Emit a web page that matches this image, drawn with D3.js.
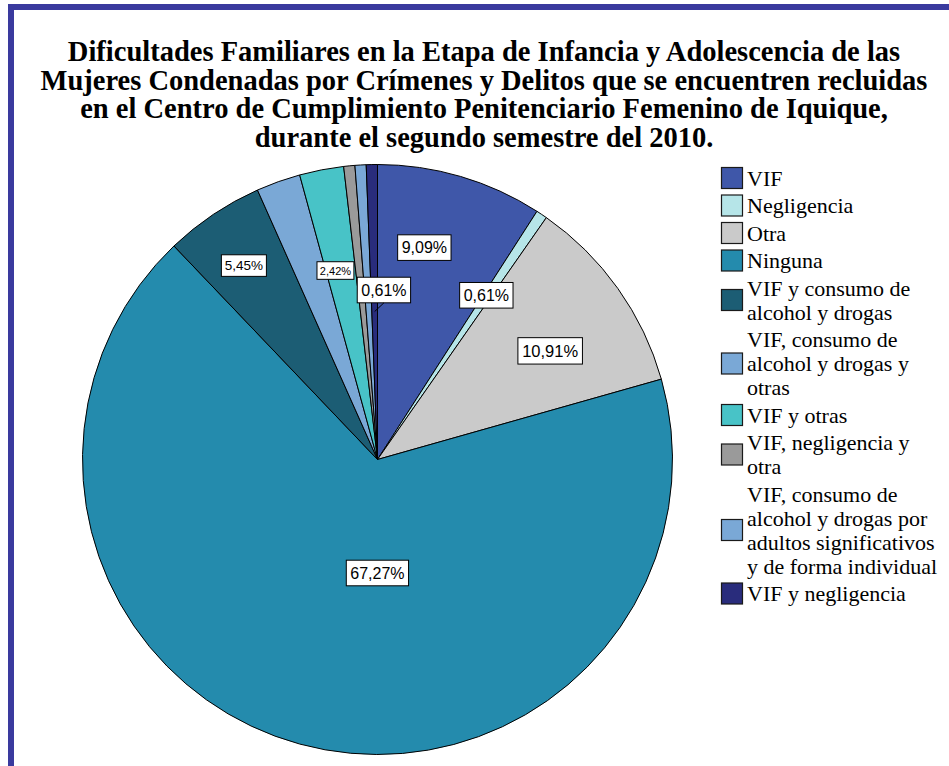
<!DOCTYPE html>
<html>
<head>
<meta charset="utf-8">
<script src="https://cdn.jsdelivr.net/npm/d3@7"></script>
<style>
  html, body { margin: 0; padding: 0; background: #ffffff; }
  svg { display: block; }
</style>
</head>
<body>
<svg id="chart" width="949" height="766"></svg>
<script>
// Categories, in drawing order (clockwise from 12 o'clock)
const categories = [
  "VIF",
  "Negligencia",
  "Otra",
  "Ninguna",
  "VIF y consumo de alcohol y drogas",
  "VIF, consumo de alcohol y drogas y otras",
  "VIF y otras",
  "VIF, negligencia y otra",
  "VIF, consumo de alcohol y drogas por adultos significativos y de forma individual",
  "VIF y negligencia"
];

// Share of each category (%)
const percentages = [9.09, 0.61, 10.91, 67.27, 5.45, 2.42, 2.42, 0.61, 0.61, 0.61];

// Legend text, wrapped as it is printed
const legendLines = [
  ["VIF"],
  ["Negligencia"],
  ["Otra"],
  ["Ninguna"],
  ["VIF y consumo de", "alcohol y drogas"],
  ["VIF, consumo de", "alcohol y drogas y", "otras"],
  ["VIF y otras"],
  ["VIF, negligencia y", "otra"],
  ["VIF, consumo de", "alcohol y drogas por", "adultos significativos", "y de forma individual"],
  ["VIF y negligencia"]
];

const titleLines = [
  "Dificultades Familiares en la Etapa de Infancia y Adolescencia de las",
  "Mujeres Condenadas por Crímenes y Delitos que se encuentren recluidas",
  "en el Centro de Cumplimiento Penitenciario Femenino de Iquique,",
  "durante el segundo semestre del 2010."
];

// Slice fills
const sliceColors = [
  "#3f57a9", "#b6e5e8", "#cacaca", "#248bad", "#1c5d74",
  "#7aa8d6", "#48c3c7", "#9a9a9a", "#7aa8d6", "#292c7c"
];

// Data-label placement: polar radius, angular nudge from the slice's mid-angle,
// font size, and optional leader-line anchor radius
const labelLayout = new Map([
  [0, { r: 217, da: -0.068, fs: 16 }],
  [1, { r: 197, da: -0.005, fs: 16 }],
  [2, { r: 204, da: 0.057, fs: 16.5 }],
  [3, { r: 113.5, da: -0.266, fs: 16 }],
  [4, { r: 235.5, da: -0.013, fs: 13.5 }],
  [6, { r: 193.6, da: -0.028, fs: 11 }],
  [9, { r: 169.6, da: 0.057, fs: 16, leader: 148 }]
]);

const svg = d3.select("#chart");
const W = 949, H = 766;

// Frame bars (top and left)
const frameColor = "#3a3a9e";
svg.append("rect").attr("x", 8).attr("y", 4).attr("width", W - 8).attr("height", 6).attr("fill", frameColor);
svg.append("rect").attr("x", 8).attr("y", 4).attr("width", 6).attr("height", H - 4).attr("fill", frameColor);

// Title
const title = svg.append("text")
  .attr("text-anchor", "middle")
  .attr("font-family", "'Liberation Serif', 'Times New Roman', serif")
  .attr("font-weight", "bold")
  .attr("font-size", 28.5)
  .attr("fill", "#000");
titleLines.forEach((t, i) => {
  title.append("tspan").attr("x", 484).attr("y", 61 + i * 28.5).text(t);
});

// Pie
const cx = 377.5, cy = 459.5, R = 295;
const data = categories.map((c, i) => ({ name: c, value: percentages[i], color: sliceColors[i], idx: i }));
const pie = d3.pie().sort(null).value(d => d.value);
const arcs = pie(data);
const arcGen = d3.arc().innerRadius(0).outerRadius(R);

const g = svg.append("g").attr("transform", `translate(${cx},${cy})`);
g.selectAll("path.slice")
  .data(arcs)
  .join("path")
  .attr("class", "slice")
  .attr("d", arcGen)
  .attr("fill", d => d.data.color)
  .attr("stroke", "#000")
  .attr("stroke-width", 1)
  .attr("stroke-linejoin", "round");

// Data labels
const locale = d3.formatLocale({ decimal: ",", thousands: ".", grouping: [3], currency: ["", ""] });
const fmt = v => locale.format(".2f")(v) + "%";

arcs.forEach(a => {
  const L = labelLayout.get(a.data.idx);
  if (!L) return;
  const mid = (a.startAngle + a.endAngle) / 2;
  const ang = mid + L.da;
  const x = L.r * Math.sin(ang), y = -L.r * Math.cos(ang);
  const lg = g.append("g").attr("transform", `translate(${x},${y})`);
  const txt = lg.append("text")
    .attr("text-anchor", "middle")
    .attr("dominant-baseline", "central")
    .attr("font-family", "'Liberation Sans', Arial, sans-serif")
    .attr("font-size", L.fs)
    .attr("fill", "#000")
    .text(fmt(a.data.value));
  const bb = txt.node().getBBox();
  const padX = L.fs * 0.25, h = L.fs * 1.6;
  const bw = bb.width + padX * 2;
  lg.insert("rect", "text")
    .attr("x", -bw / 2).attr("y", -h / 2)
    .attr("width", bw).attr("height", h)
    .attr("fill", "#fff")
    .attr("stroke", "#000")
    .attr("stroke-width", 1);
  if (L.leader) {
    const lx = L.leader * Math.sin(mid), ly = -L.leader * Math.cos(mid);
    g.append("line")
      .attr("x1", lx).attr("y1", ly)
      .attr("x2", x).attr("y2", y + h / 2)
      .attr("stroke", "#000").attr("stroke-width", 1);
  }
});

// Legend
const legend = svg.append("g");
const lineH = 24, gap = 3.5, sq = 21;
let yTop = 178; // vertical centre of the first text line
data.forEach((d, i) => {
  const lines = legendLines[i];
  const n = lines.length;
  const midY = yTop + (n - 1) * lineH / 2;
  legend.append("rect")
    .attr("x", 721.5).attr("y", midY - sq / 2)
    .attr("width", sq).attr("height", sq)
    .attr("fill", d.color)
    .attr("stroke", "#1a1a1a").attr("stroke-width", 1.2);
  const t = legend.append("text")
    .attr("font-family", "'Liberation Serif', 'Times New Roman', serif")
    .attr("font-size", 22)
    .attr("fill", "#000");
  lines.forEach((ln, k) => {
    t.append("tspan").attr("x", 747).attr("y", yTop + k * lineH + 7.5).text(ln);
  });
  yTop += n * lineH + gap;
});
</script>
</body>
</html>
